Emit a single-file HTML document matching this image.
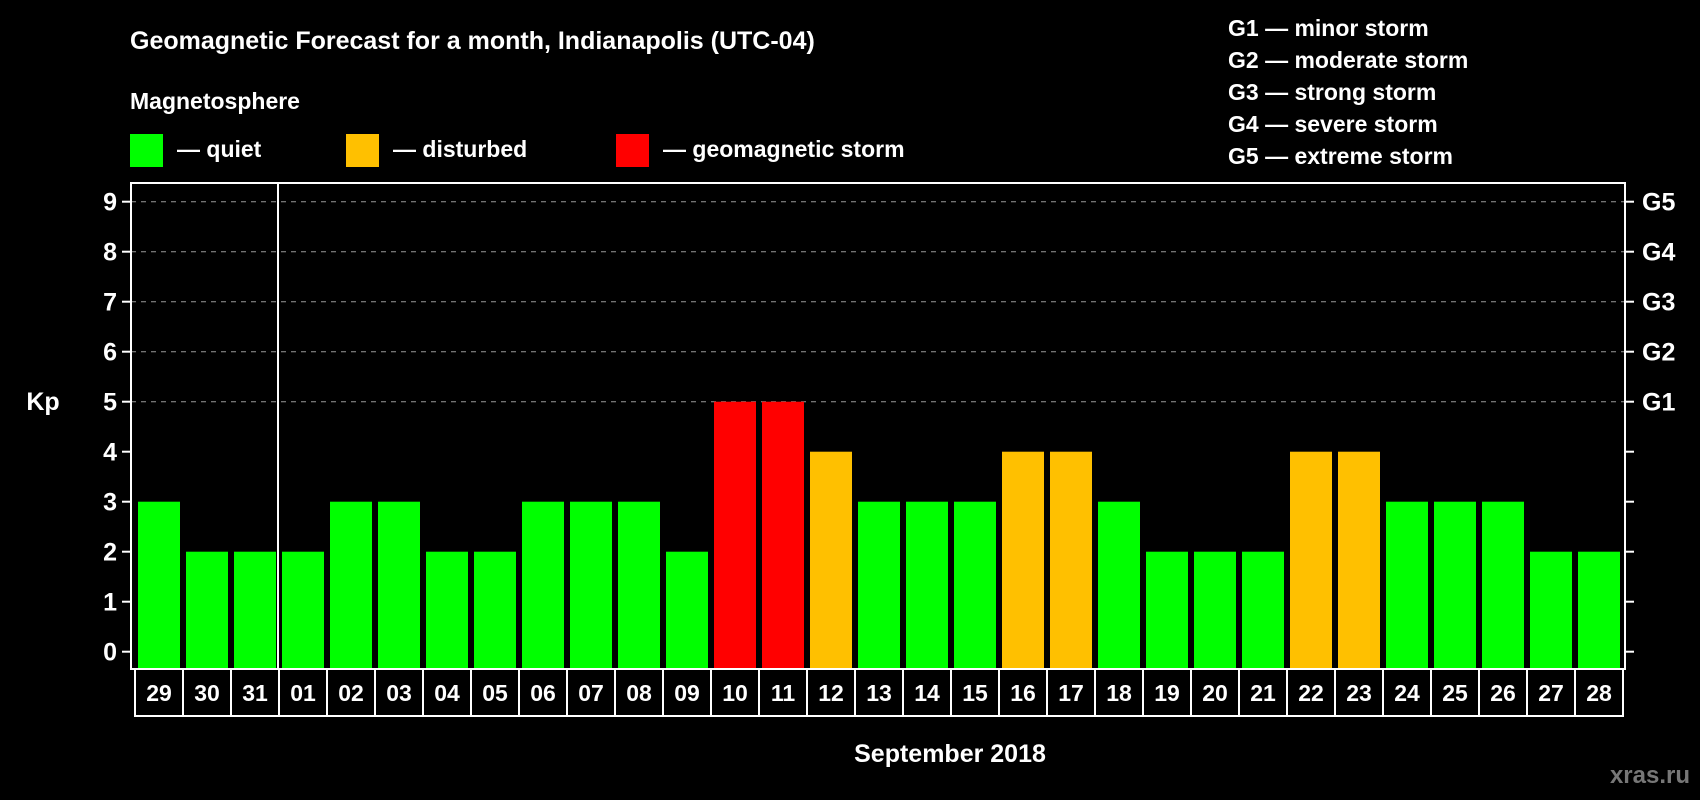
<!DOCTYPE html>
<html><head><meta charset="utf-8"><style>
html,body{margin:0;padding:0;background:#000;}
svg{display:block;font-family:"Liberation Sans",sans-serif;font-weight:bold;}
</style></head><body>
<svg id="c" width="1700" height="800" viewBox="0 0 1700 800">
<text x="130" y="49" fill="#fff" font-size="25">Geomagnetic Forecast for a month, Indianapolis (UTC-04)</text>
<text x="130" y="109" fill="#fff" font-size="23">Magnetosphere</text>
<rect x="130" y="134" width="33" height="33" fill="#00ff00"/>
<text x="177" y="157" fill="#fff" font-size="23">— quiet</text>
<rect x="346" y="134" width="33" height="33" fill="#ffc000"/>
<text x="393" y="157" fill="#fff" font-size="23">— disturbed</text>
<rect x="616" y="134" width="33" height="33" fill="#ff0000"/>
<text x="663" y="157" fill="#fff" font-size="23">— geomagnetic storm</text>
<g fill="#fff" font-size="23">
<text x="1228" y="36">G1 — minor storm</text>
<text x="1228" y="68">G2 — moderate storm</text>
<text x="1228" y="100">G3 — strong storm</text>
<text x="1228" y="132">G4 — severe storm</text>
<text x="1228" y="164">G5 — extreme storm</text>
</g>
<text x="43" y="410" fill="#fff" font-size="25" text-anchor="middle">Kp</text>
<text x="950" y="762" fill="#fff" font-size="25" text-anchor="middle">September 2018</text>
<text x="1690" y="783" fill="#777" font-size="24" text-anchor="end">xras.ru</text>
<g id="plot"></g>
</svg>
<script>
const days=["29","30","31","01","02","03","04","05","06","07","08","09","10","11","12","13","14","15","16","17","18","19","20","21","22","23","24","25","26","27","28"];
const kp=[3,2,2,2,3,3,2,2,3,3,3,2,5,5,4,3,3,3,4,4,3,2,2,2,4,4,3,3,3,2,2];
const yTicks=[0,1,2,3,4,5,6,7,8,9];
const gLabels=["G1","G2","G3","G4","G5"];
const gLevels=[5,6,7,8,9];
const NS="http://www.w3.org/2000/svg";
const g=document.getElementById('plot');
const L=131,R=1625,T=183,B=669,PX0=135,PITCH=48;
const y=v=>651.7-v*50;
const x=i=>PX0+i*PITCH;
function mk(t,a){const e=document.createElementNS(NS,t);for(const k in a)e.setAttribute(k,a[k]);g.appendChild(e);return e;}
yTicks.forEach(v=>{
 if(v>=5){const gl=mk('line',{x1:L,x2:R,y1:y(v),y2:y(v),stroke:'#999','stroke-dasharray':'5,5','stroke-width':1});
 
 }
 const t1=mk('line',{x1:L-9,x2:L,y1:y(v),y2:y(v),stroke:'#fff','stroke-width':2});
 
 
 const t2=mk('line',{x1:R,x2:R+9,y1:y(v),y2:y(v),stroke:'#fff','stroke-width':2});
 
 
 const tl=mk('text',{x:L-14,y:y(v)+9,fill:'#fff','font-size':25,'text-anchor':'end'});tl.textContent=v;
 
 
});
gLevels.forEach((v,i)=>{
 const t=mk('text',{x:R+17,y:y(v)+9,fill:'#fff','font-size':25});t.textContent=gLabels[i];
 
 
});
kp.forEach((v,i)=>{
 const col=v>=5?'#ff0000':(v>=4?'#ffc000':'#00ff00');
 const b=mk('rect',{x:x(i)+3,y:y(v),width:42,height:y(0)-y(v)+17,fill:col});
 
 
 const t=mk('text',{x:x(i)+24,y:701,fill:'#fff','font-size':23,'text-anchor':'middle'});t.textContent=days[i];
 
 
 const c=mk('line',{x1:x(i),x2:x(i),y1:B,y2:716,stroke:'#fff','stroke-width':2});
 
 
});
const ce=mk('line',{x1:x(days.length),x2:x(days.length),y1:B,y2:716,stroke:'#fff','stroke-width':2});


const bl=mk('line',{x1:PX0-1,x2:x(days.length)+1,y1:716,y2:716,stroke:'#fff','stroke-width':2});


const fr=mk('rect',{x:L,y:T,width:R-L,height:B-T,fill:'none',stroke:'#fff','stroke-width':2});


const ml=mk('line',{x1:x(3)-1,x2:x(3)-1,y1:T,y2:B,stroke:'#fff','stroke-width':2});


</script>
</body></html>
